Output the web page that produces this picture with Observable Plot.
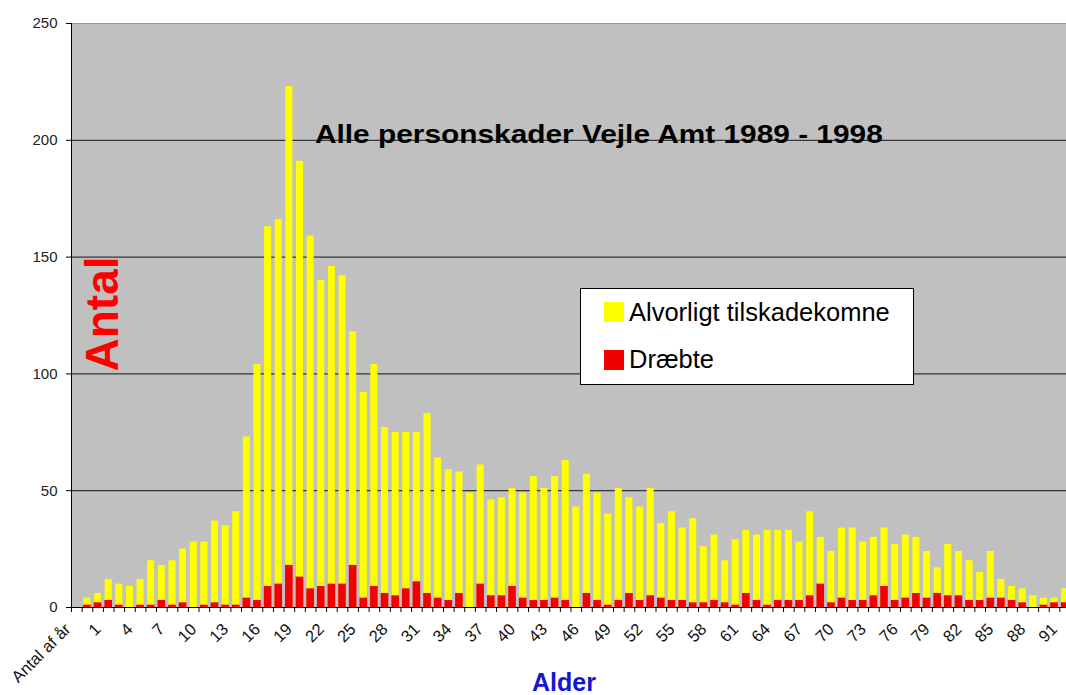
<!DOCTYPE html>
<html>
<head>
<meta charset="utf-8">
<script src="https://cdn.jsdelivr.net/npm/d3@7"></script>
<script src="https://cdn.jsdelivr.net/npm/@observablehq/plot@0.6"></script>
<style>
html, body { margin: 0; padding: 0; background: #fff; overflow: hidden; width: 1066px; height: 695px; }
#wrap { position: relative; width: 1066px; height: 695px; font-family: "Liberation Sans", Arial, sans-serif; overflow: hidden; }
.ov { position: absolute; white-space: nowrap; line-height: 1; }
</style>
</head>
<body>
<div id="wrap"></div>
<script>
// ---- data ----
const firstCategory = "Antal af år";
const ages = ["0","1","2","3","4","5","6","7","8","9","10","11","12","13","14","15","16","17","18","19",
  "20","21","22","23","24","25","26","27","28","29","30","31","32","33","34","35","36","37","38","39",
  "40","41","42","43","44","45","46","47","48","49","50","51","52","53","54","55","56","57","58","59",
  "60","61","62","63","64","65","66","67","68","69","70","71","72","73","74","75","76","77","78","79",
  "80","81","82","83","84","85","86","87","88","89","90","91","92"];
// Alvorligt tilskadekomne (bar top)
const hurt = [4,6,12,10,9,12,20,18,20,25,28,28,37,35,41,73,104,163,166,223,
  191,159,140,146,142,118,92,104,77,75,75,75,83,64,59,58,49,61,46,47,
  51,49,56,51,56,63,43,57,49,40,51,47,43,51,36,41,34,38,26,31,
  20,29,33,31,33,33,33,28,41,30,24,34,34,28,30,34,27,31,30,24,
  17,27,24,20,15,24,12,9,8,5,4,4,8];
// Dræbte
const killed = [1,2,3,1,0,1,1,3,1,2,0,1,2,1,1,4,3,9,10,18,
  13,8,9,10,10,18,4,9,6,5,8,11,6,4,3,6,0,10,5,5,
  9,4,3,3,4,3,0,6,3,1,3,6,3,5,4,3,3,2,2,3,
  2,1,6,3,1,3,3,3,5,10,2,4,3,3,5,9,3,4,6,4,
  6,5,5,3,3,4,4,3,2,0,1,2,2];
const ageTickLabels = ["1","4","7","10","13","16","19","22","25","28","31","34","37","40","43",
  "46","49","52","55","58","61","64","67","70","73","76","79","82","85","88","91"];
const yTicks = [0, 50, 100, 150, 200, 250];
const gridValues = [50, 100, 150, 200];
const seriesNames = ["Alvorligt tilskadekomne", "Dræbte"];
const seriesColors = ["#ffff00", "#f20000"];
const titleText = "Alle personskader Vejle Amt 1989 - 1998";
const yLabel = "Antal";
const xLabel = "Alder";

// ---- build ----
const categories = [firstCategory, ...ages];
const rows = ages.map((a, i) => ({cat: a, hurt: hurt[i], killed: killed[i]}));

const W = 1066, H = 695, mL = 71, mR = -4, mT = 23, mB = 88;
const step = (W - mL - mR) / categories.length;
const font = '"Liberation Sans", Arial, sans-serif';
const xLabelStyle = {tickSize: 0, tickRotate: -45, tickPadding: 19, fontSize: 16.5, label: null, fill: "#111"};

const chart = Plot.plot({
  width: W, height: H,
  marginLeft: mL, marginRight: mR, marginTop: mT, marginBottom: mB,
  style: {background: "transparent", fontFamily: font, overflow: "hidden"},
  x: {type: "band", domain: categories, padding: 0},
  y: {domain: [0, 250]},
  marks: [
    Plot.frame({fill: "#c0c0c0", stroke: "#9c9c9c"}),
    Plot.ruleY(gridValues, {stroke: "#141414", strokeWidth: 1}),
    Plot.barY(rows, {x: "cat", y: "hurt", fill: seriesColors[0], insetLeft: 1.8, insetRight: 1.8}),
    Plot.barY(rows, {x: "cat", y: "killed", fill: seriesColors[1], insetLeft: 1.5, insetRight: 1.5}),
    Plot.ruleY([0], {stroke: "#000"}),
    Plot.ruleX([firstCategory], {dx: -step / 2, stroke: "#000"}),
    Plot.axisY({ticks: yTicks, tickSize: 5, tickPadding: 9, fontSize: 15, label: null, fill: "#222"}),
    Plot.axisX({ticks: categories, tickSize: 5, tickFormat: () => "", dx: -step / 2, label: null}),
    Plot.axisX({ticks: ageTickLabels, ...xLabelStyle}),
    Plot.axisX({ticks: [firstCategory], ...xLabelStyle, dx: -9})
  ]
});

const wrap = document.getElementById("wrap");
wrap.appendChild(chart);
chart.style.position = "absolute";
chart.style.left = "0px";
chart.style.top = "0px";

function addText(txt, css) {
  const d = document.createElement("div");
  d.className = "ov";
  d.textContent = txt;
  Object.assign(d.style, css);
  wrap.appendChild(d);
  return d;
}

// title (inside plot)
addText(titleText, {left: "315px", top: "121.5px", fontSize: "25.5px", fontWeight: "bold", color: "#000",
  transform: "scaleX(1.17)", transformOrigin: "0 0"});

// y label
addText(yLabel, {left: "101.5px", top: "313.5px", fontSize: "46px", fontWeight: "bold", color: "#ff0000",
  transform: "translate(-50%, -50%) rotate(-90deg)"});

// x label
addText(xLabel, {left: "564px", top: "669.5px", fontSize: "25px", fontWeight: "bold", color: "#1515d5",
  transform: "translateX(-50%)"});

// legend
const leg = document.createElement("div");
Object.assign(leg.style, {position: "absolute", left: "580px", top: "288px", width: "332px", height: "95px",
  background: "#fff", border: "1px solid #000"});
wrap.appendChild(leg);
const swTops = [302, 350];
const txtTops = [300.2, 346.5];
seriesNames.forEach((name, i) => {
  const sw = document.createElement("div");
  Object.assign(sw.style, {position: "absolute", left: "604px", top: swTops[i] + "px", width: "20px", height: "20px",
    background: seriesColors[i]});
  wrap.appendChild(sw);
  addText(name, {left: "629px", top: txtTops[i] + "px", fontSize: "25.5px", color: "#000"});
});
</script>
</body>
</html>
